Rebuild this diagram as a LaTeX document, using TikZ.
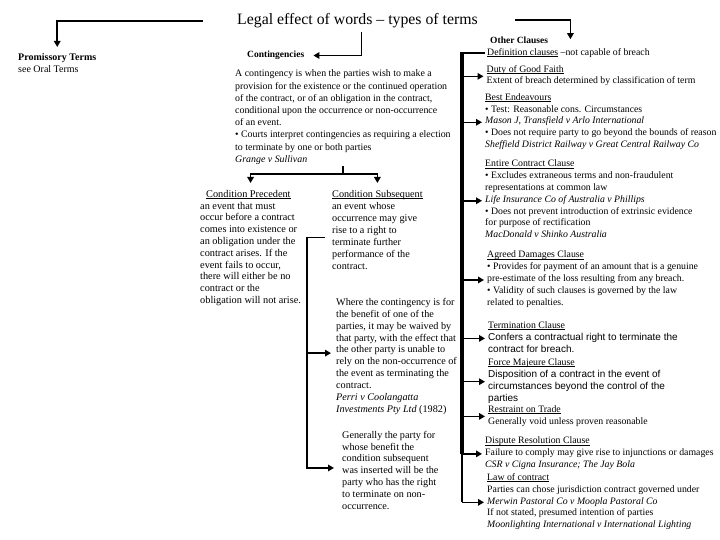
\documentclass[tikz,border=0pt]{standalone}
\usepackage{fontspec}
\setmainfont{Liberation Serif}
\setsansfont{Liberation Sans}
\usetikzlibrary{arrows.meta}
\newlength\undlw
\newcommand\undl[1]{\settowidth\undlw{#1}\rlap{\rule[-1.6pt]{\undlw}{0.6pt}}#1}
\tikzset{
  txt/.style={anchor=north west, inner sep=0pt, align=left,
    font=\fontsize{9.8}{11.8}\selectfont,
    execute at begin node=\strut, execute at end node=\strut},
  head/.style={anchor=west, inner sep=0pt, font=\bfseries\fontsize{9.5}{12}\selectfont},
  line/.style={line width=1.5pt},
  bus/.style={line width=3.5pt},
  conn/.style={line width=1.5pt, -{Triangle[length=6pt,width=6.5pt]}},
}
\begin{document}
\begin{tikzpicture}[x=1pt,y=-1pt]
\useasboundingbox[fill=white] (0,0) rectangle (720,540);

% title
\node[font=\fontsize{15.8}{18}\selectfont, inner sep=0pt] (title) at (357.5,21) {Legal effect of words – types of terms};

% left
\node[txt, font=\fontsize{10}{12}\selectfont] (prom) at (18,53) {\textbf{Promissory Terms}\\see Oral Terms};
\node[head] (cont) at (247,55.5) {Contingencies};
\node[txt, font=\fontsize{9.9}{12.2}\selectfont] (ctx) at (235,69.8) {A contingency is when the parties wish to make a\\
provision for the existence or the continued operation\\
of the contract, or of an obligation in the contract,\\
conditional upon the occurrence or non-occurrence\\
of an event.\\
• Courts interpret contingencies as requiring a election\\
to terminate by one or both parties\\
\textit{Grange v Sullivan}};

\node[txt, font=\fontsize{10.3}{11.8}\selectfont] (cp) at (200,190) {\hspace*{6pt}\undl{Condition Precedent}\\
an event that must\\
occur before a contract\\
comes into existence or\\
an obligation under the\\
contract arises. If the\\
event fails to occur,\\
there will either be no\\
contract or the\\
obligation will not arise.};

\node[txt, font=\fontsize{10.2}{12}\selectfont] (cs) at (332,190) {\undl{Condition Subsequent}\\
an event whose\\
occurrence may give\\
rise to a right to\\
terminate further\\
performance of the\\
contract.};

\node[txt, font=\fontsize{10.2}{11.9}\selectfont] (waive) at (336,298) {Where the contingency is for\\
the benefit of one of the\\
parties, it may be waived by\\
that party, with the effect that\\
the other party is unable to\\
rely on the non-occurrence of\\
the event as terminating the\\
contract.\\
\textit{Perri v Coolangatta}\\
\textit{Investments Pty Ltd} (1982)};

\node[txt, font=\fontsize{10.2}{11.8}\selectfont] (gen) at (342,431) {Generally the party for\\
whose benefit the\\
condition subsequent\\
was inserted will be the\\
party who has the right\\
to terminate on non-\\
occurrence.};

% right
\node[head] (otherh) at (490,40) {Other Clauses};
\node[txt] (defn) at (487,46.7) {\undl{Definition clauses} –not capable of breach};
\node[txt] (duty) at (486.5,65) {\undl{Duty of Good Faith}\\Extent of breach determined by classification of term};
\node[txt] (best) at (485,93.3) {\undl{Best Endeavours}\\
• Test: Reasonable cons. Circumstances\\
\textit{Mason J, Transfield v Arlo International}\\
• Does not require party to go beyond the bounds of reason\\
\textit{Sheffield District Railway v Great Central Railway Co}};
\node[txt] (entire) at (485,160) {\undl{Entire Contract Clause}\\
• Excludes extraneous terms and non-fraudulent\\
representations at common law\\
\textit{Life Insurance Co of Australia v Phillips}\\
• Does not prevent introduction of extrinsic evidence\\
for purpose of rectification\\
\textit{MacDonald v Shinko Australia}};
\node[txt] (agreed) at (487,251) {\undl{Agreed Damages Clause}\\
• Provides for payment of an amount that is a genuine\\
pre-estimate of the loss resulting from any breach.\\
• Validity of such clauses is governed by the law\\
related to penalties.};
\node[txt, font=\fontsize{9.8}{12}\selectfont] (term) at (488,321) {\undl{Termination Clause}\\
{\sffamily\fontsize{10}{12}\selectfont Confers a contractual right to terminate the}\\
{\sffamily\fontsize{10}{12}\selectfont contract for breach.}};
\node[txt, font=\fontsize{9.8}{12}\selectfont] (force) at (488,358.3) {\undl{Force Majeure Clause}\\
{\sffamily\fontsize{10}{12}\selectfont Disposition of a contract in the event of}\\
{\sffamily\fontsize{10}{12}\selectfont circumstances beyond the control of the}\\
{\sffamily\fontsize{10}{12}\selectfont parties}};
\node[txt, font=\fontsize{9.8}{12}\selectfont] (restr) at (488,405) {\undl{Restraint on Trade}\\
Generally void unless proven reasonable};
\node[txt] (disp) at (485,436.7) {\undl{Dispute Resolution Clause}\\
Failure to comply may give rise to injunctions or damages\\
\textit{CSR v Cigna Insurance; The Jay Bola}};
\node[txt] (law) at (487,473.3) {\undl{Law of contract}\\
Parties can chose jurisdiction contract governed under\\
\textit{Merwin Pastoral Co v Moopla Pastoral Co}\\
If not stated, presumed intention of parties\\
\textit{Moonlighting International v International Lighting}};

% connectors from title
\draw[conn, shorten >=6pt] ([xshift=-34pt]title.west) -| (prom.north);
\draw[conn] ([xshift=4pt,yshift=-4pt]title.south) |- ([xshift=9pt]cont.east);
\draw[conn, shorten >=7.5pt] ([xshift=37pt,yshift=1pt]title.east) -| ([xshift=2pt]defn.north);

% contingencies branches
\draw[line] (ctx.south) -- ++(0,8) coordinate (cj);
\draw[conn, shorten >=7pt] (cj) -| (cp.north);
\draw[conn, shorten >=7pt] (cj) -| (cs.north);

% condition subsequent branches
\coordinate (wv) at ([xshift=-5pt,yshift=4pt]waive.west);
\coordinate (gv) at ([xshift=-8pt,yshift=4pt]gen.west);
\draw[conn] ([xshift=-7pt,yshift=-6pt]cs.west) -- ++(-18,0) coordinate (lv) |- (gv);
\draw[conn] (lv |- wv) -- (wv);

% right bus
\draw[line] ([xshift=-2pt]defn.west) -- ([xshift=-25pt]defn.west) coordinate (bt);
\draw[bus] ([yshift=0.75pt]bt) -- (bt |- disp.west);
\draw[line] (bt |- disp.west) -- (bt |- law.west);
\foreach \n in {duty,best,entire,agreed,term,force,restr,disp,law}
  \draw[conn, shorten >=3pt] (bt |- \n.west) -- (\n.west);
\end{tikzpicture}
\end{document}
